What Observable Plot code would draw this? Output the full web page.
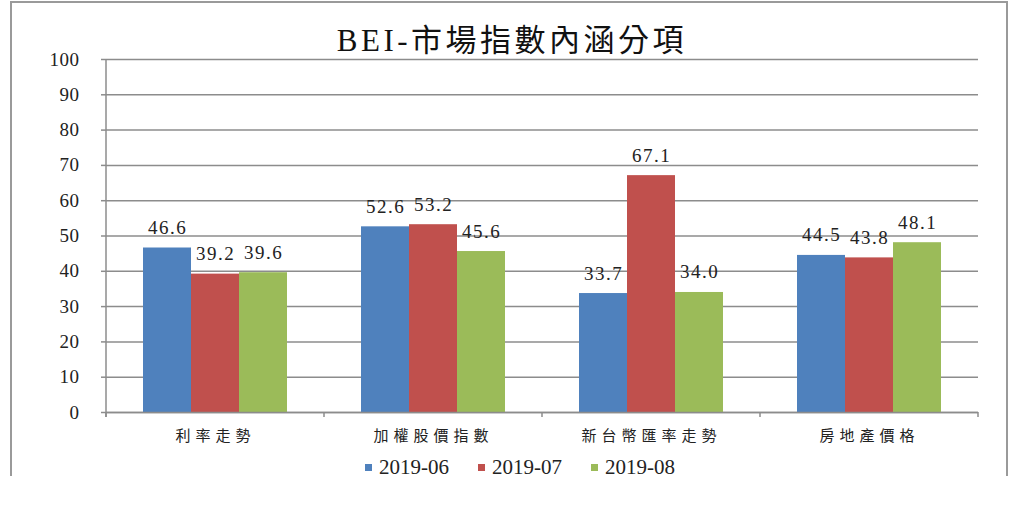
<!DOCTYPE html>
<html>
<head>
<meta charset="utf-8">
<script src="https://cdn.jsdelivr.net/npm/d3@7"></script>
<script src="https://cdn.jsdelivr.net/npm/@observablehq/plot@0.6"></script>
<style>
  body { margin: 0; background: #fff; }
  #wrap { position: relative; width: 1024px; height: 518px; overflow: hidden; background: #fff; }
  #frame { position: absolute; left: 10px; top: 1px; width: 998px; height: 475px;
           border: 2px solid #9a9a9a; border-bottom: none; box-sizing: border-box; }
  #chart { position: absolute; left: 0; top: 0; }
  #title { position: absolute; left: 0; top: 21px; width: 1024px; text-align: center;
           font-family: "Liberation Serif", "Noto Sans CJK TC", serif; font-size: 31px;
           line-height: 40px; letter-spacing: 3.5px; color: #111; }
  #legend { position: absolute; left: 365px; top: 457px; display: flex; }
  .item { width: 113px; display: flex; align-items: center; font-family: "Liberation Serif", serif;
          font-size: 21px; line-height: 20px; color: #222; }
  .sw { width: 7px; height: 7px; margin-right: 7px; display: inline-block; }
  #chart g[aria-label="text"] text { letter-spacing: 1.5px; }
  #chart g[aria-label="fx-axis tick label"] text { letter-spacing: 5px; }
  #chart g[aria-label="y-axis tick label"] text { letter-spacing: 0.5px; }
</style>
</head>
<body>
<div id="wrap">
  <div id="frame"></div>
  <div id="chart"></div>
  <div id="title"></div>
  <div id="legend"></div>
</div>
<script>
const titleText = "BEI-市場指數內涵分項";
const categories = ["利率走勢", "加權股價指數", "新台幣匯率走勢", "房地產價格"];
const series = ["2019-06", "2019-07", "2019-08"];
const values201906 = [46.6, 52.6, 33.7, 44.5];
const values201907 = [39.2, 53.2, 67.1, 43.8];
const values201908 = [39.6, 45.6, 34.0, 48.1];
const colors = ["#4F81BD", "#C0504D", "#9BBB59"];
const yTicks = [0, 10, 20, 30, 40, 50, 60, 70, 80, 90, 100];

const seriesValues = [values201906, values201907, values201908];
const data = categories.flatMap((c, i) =>
  series.map((s, j) => ({category: c, series: s, value: seriesValues[j][i]}))
);

const gray = "#8c8c8c";
const serif = "Liberation Serif, Times New Roman, serif";
const chart = Plot.plot({
  width: 1024,
  height: 518,
  marginTop: 59,
  marginLeft: 105,
  marginRight: 46,
  marginBottom: 106,
  style: {background: "transparent", overflow: "visible"},
  fx: {domain: categories, padding: 0, axis: null},
  x: {domain: series, paddingInner: 0, paddingOuter: 0.757, axis: null},
  y: {domain: [0, 100], axis: null},
  color: {domain: series, range: colors},
  marks: [
    Plot.gridY(yTicks, {stroke: gray, strokeOpacity: 1, strokeWidth: 1.5}),
    Plot.barY(data, {fx: "category", x: "series", y: "value", fill: "series"}),
    Plot.ruleY([0], {stroke: gray, strokeWidth: 1.5}),
    Plot.text(data, {fx: "category", x: "series", y: "value", text: d => d.value.toFixed(1),
      dy: -14, lineAnchor: "bottom", fontFamily: serif, fontSize: 19, fill: "#222"}),
    Plot.axisY(yTicks, {anchor: "left", tickSize: 5, tickPadding: 22, stroke: gray, strokeWidth: 1.5,
      fontSize: 19, fontFamily: serif, fill: "#222", label: null, tickFormat: d => String(d)}),
    Plot.axisFx({anchor: "bottom", tickSize: 0, tickPadding: 18, fontSize: 15,
      fontFamily: "Noto Sans CJK TC", fill: "#222", label: null})
  ]
});

// category boundary ticks and the left axis line, placed with Plot's own scales
const fx = chart.scale("fx");
const y = chart.scale("y");
const svg = d3.select(chart);
const y0 = y.apply(0), yTop = y.apply(100);
const edges = categories.map(c => fx.apply(c));
edges.push(fx.apply(categories[categories.length - 1]) + fx.bandwidth);
const g = svg.append("g").attr("stroke", gray).attr("stroke-width", 1.5);
g.append("line").attr("x1", edges[0]).attr("x2", edges[0]).attr("y1", yTop).attr("y2", y0 + 5);
edges.forEach(x => g.append("line").attr("x1", x).attr("x2", x).attr("y1", y0).attr("y2", y0 + 5));

document.getElementById("chart").appendChild(chart);
document.getElementById("title").textContent = titleText;

const legend = d3.select("#legend");
series.forEach((s, i) => {
  const item = legend.append("div").attr("class", "item");
  item.append("span").attr("class", "sw").style("background", colors[i]);
  item.append("span").text(s);
});
</script>
</body>
</html>
